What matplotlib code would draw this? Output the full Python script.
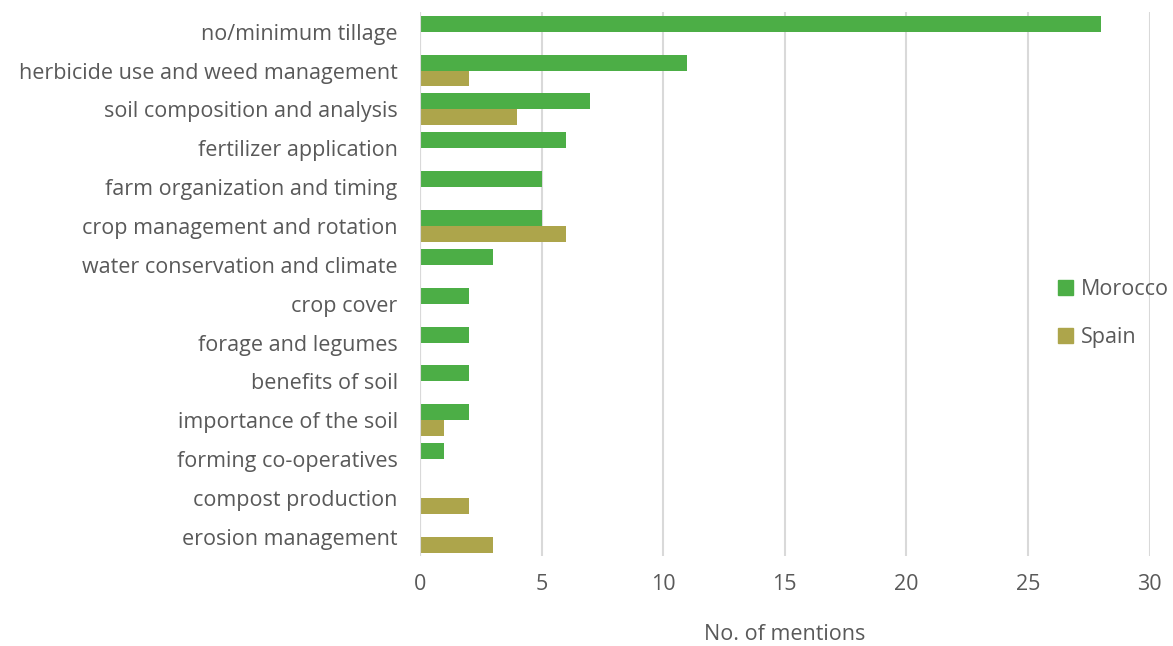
import numpy as np
import matplotlib.pyplot as plt
from matplotlib.patches import Patch

plt.rcParams['font.family'] = ['Open Sans', 'DejaVu Sans']

# Themen und Anzahl der Nennungen
themen = ["no/minimum tillage", "herbicide use and weed management",
          "soil composition and analysis", "fertilizer application",
          "farm organization and timing", "crop management and rotation",
          "water conservation and climate", "crop cover", "forage and legumes",
          "benefits of soil", "importance of the soil", "forming co-operatives",
          "compost production", "erosion management"]
marokko = [28, 11, 7, 6, 5, 5, 3, 2, 2, 2, 2, 1, 0, 0]
spanien = [0, 2, 4, 0, 0, 6, 0, 0, 0, 0, 1, 0, 2, 3]
x_ticks = [0, 5, 10, 15, 20, 25, 30]

gruen = '#4cae46'
oliv = '#ada54b'
grau = '#595959'
fs = 15.5

fig = plt.figure(figsize=(11.73, 6.46), dpi=100)
ax = fig.add_axes([0.358, 0.139, 0.622, 0.842])

y = np.arange(len(themen))
h = 0.41
ax.barh(y - h / 2, marokko, height=h, color=gruen, zorder=3)
ax.barh(y + h / 2, spanien, height=h, color=oliv, zorder=3)

ax.set_ylim(len(themen) - 0.5, -0.5)
ax.set_xlim(0, 30)
ax.set_yticks(y)
ax.set_yticklabels(themen, fontsize=fs, color=grau)
ax.set_xticks(x_ticks)
ax.set_xticklabels([str(t) for t in x_ticks], fontsize=fs, color=grau)
ax.tick_params(axis='both', length=0)
ax.tick_params(axis='y', pad=16)
ax.tick_params(axis='x', pad=13)

ax.grid(axis='x', color='#d9d9d9', linewidth=1.5, zorder=0)
for s in ax.spines.values():
    s.set_visible(False)
ax.axvline(0, color='#d9d9d9', linewidth=1.5, zorder=4)

ax.set_xlabel("No. of mentions", fontsize=fs, color=grau, labelpad=21)

handles = [Patch(color=gruen), Patch(color=oliv)]
leg = fig.legend(handles, ["Morocco", "Spain"], loc='upper left',
                 bbox_to_anchor=(1039 / 1173, 1 - 260 / 646), frameon=False,
                 fontsize=fs, handlelength=0.7, handleheight=0.7,
                 handletextpad=0.33, labelspacing=1.23)
for t in leg.get_texts():
    t.set_color(grau)

plt.savefig('out.png')
